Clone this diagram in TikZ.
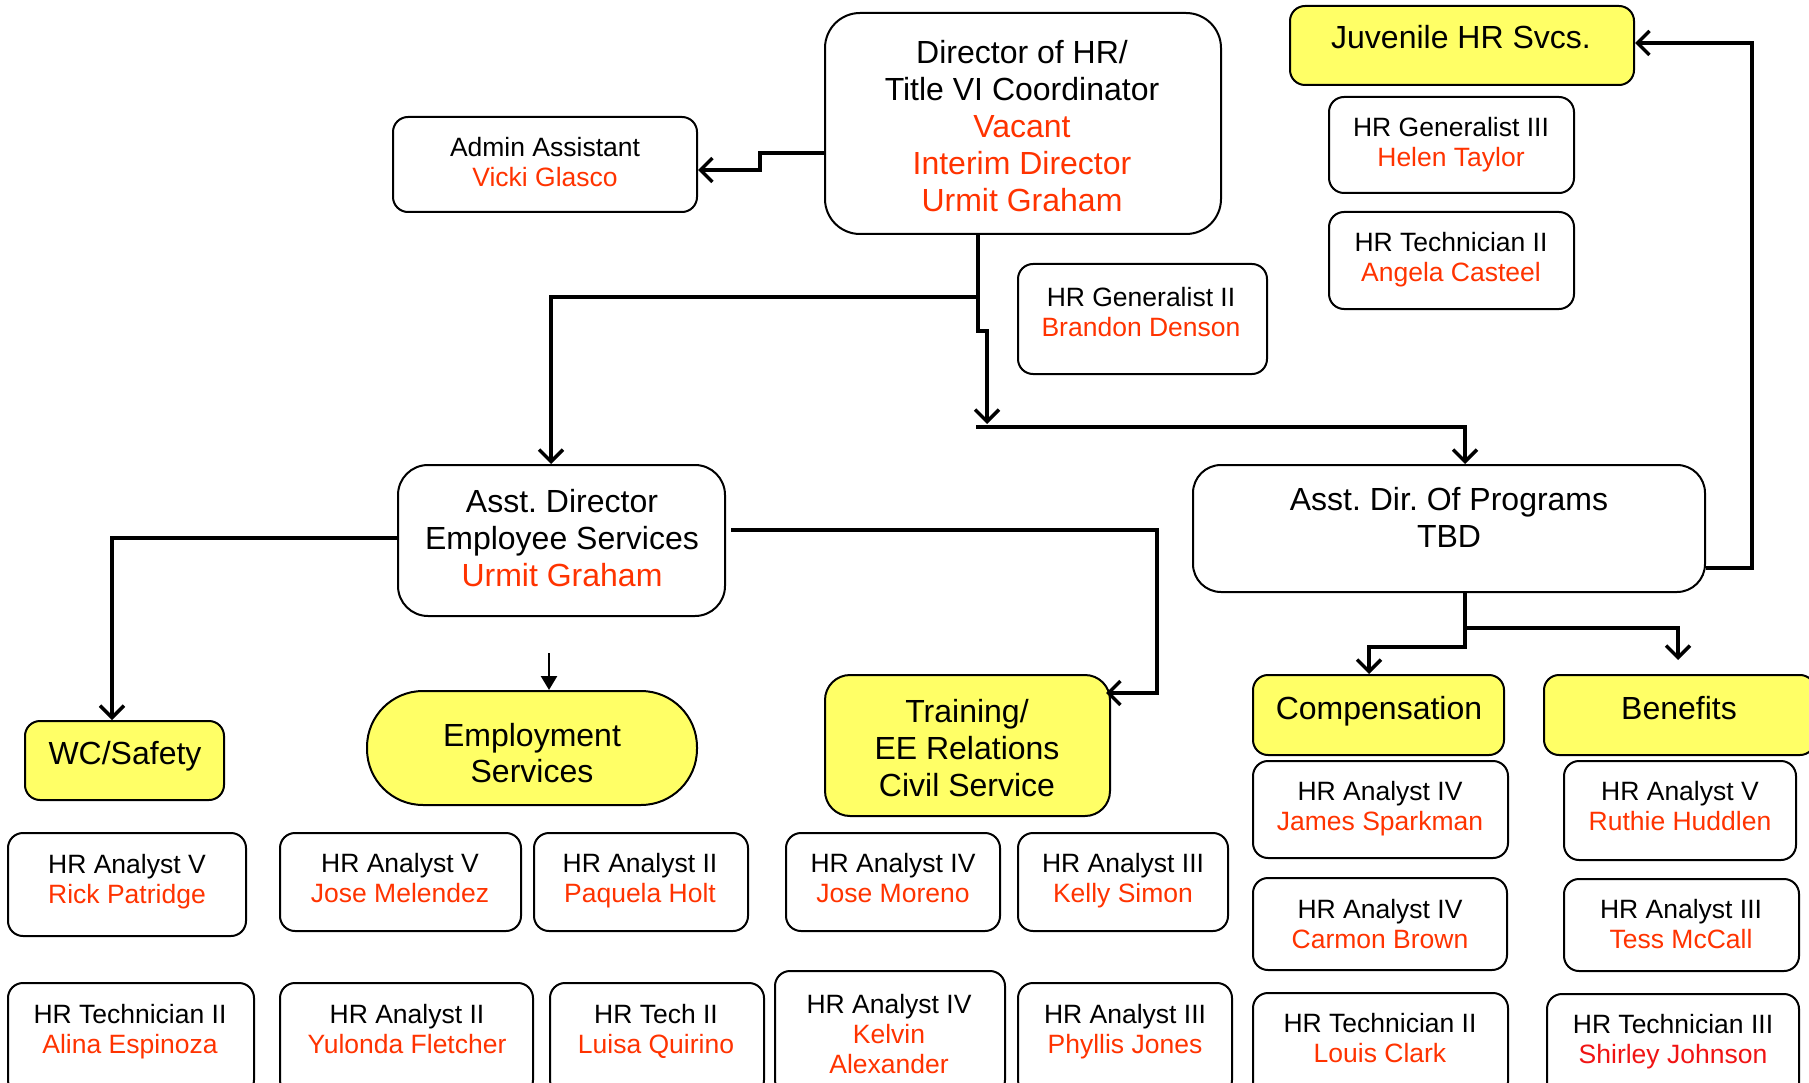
\documentclass[tikz,border=0pt]{standalone}
\usepackage{fontspec}
\setmainfont{Liberation Sans}
\usetikzlibrary{arrows.meta}
\definecolor{hrred}{RGB}{255,51,0}
\definecolor{hrred2}{RGB}{240,20,20}
\definecolor{hryellow}{RGB}{255,255,102}
\newcommand\rn[1]{\textcolor{hrred}{#1}}
\frenchspacing
\begin{document}
\begin{tikzpicture}[x=1pt,y=-1pt,
  box/.style={draw=black, line width=2pt, fill=white, rounded corners=15pt, inner sep=0pt},
  ybox/.style={box, fill=hryellow},
  big/.style={font=\fontsize{32}{37}\selectfont\frenchspacing, align=center, inner sep=0pt, text depth=0pt},
  small/.style={font=\fontsize{26.5}{30}\selectfont\frenchspacing, align=center, inner sep=0pt, text depth=0pt},
  conn/.style={line width=3.5pt, -{Straight Barb[length=12pt,width=24pt]}},
  thinarrow/.style={line width=2.5pt, -{Triangle[length=14pt,width=16pt]}}]
\useasboundingbox (0,0) rectangle (1809,1083);
\fill[white] (0,0) rectangle (1809,1083);

% top level
\node[box, rounded corners=35pt, minimum width=396pt, minimum height=221pt] (dir) at (1023,123.5) {};
\node[big] (dir-t) at (1022,126) {Director of HR/\\Title VI Coordinator\\\rn{Vacant}\\\rn{Interim Director}\\\rn{Urmit Graham}};
\node[box, minimum width=304pt, minimum height=95pt] (adm) at (545,164.5) {};
\node[small] (adm-t) at (545,162) {Admin Assistant\\\rn{Vicki Glasco}};
\node[box, minimum width=249pt, minimum height=110pt] (gen2) at (1142.5,319) {};
\node[small] (gen2-t) at (1141,312) {HR Generalist II\\\rn{Brandon Denson}};

% juvenile
\node[ybox, minimum width=344pt, minimum height=79pt] (juv) at (1462,45.5) {};
\node[big] (juv-t) at (1461,37) {Juvenile HR Svcs.};
\node[box, minimum width=245pt, minimum height=96pt] (gen3) at (1451.5,145) {};
\node[small] (gen3-t) at (1451,142) {HR Generalist III\\\rn{Helen Taylor}};
\node[box, minimum width=245pt, minimum height=97pt] (tj) at (1451.5,260.5) {};
\node[small] (tj-t) at (1451,257) {HR Technician II\\\rn{Angela Casteel}};

% assistant directors
\node[box, rounded corners=30pt, minimum width=327pt, minimum height=151pt] (asd) at (561.5,540.5) {};
\node[big] (asd-t) at (562,538) {Asst. Director\\Employee Services\\\rn{Urmit Graham}};
\node[box, rounded corners=28pt, minimum width=512pt, minimum height=127pt] (adp) at (1449,528.5) {};
\node[big] (adp-t) at (1449,517.5) {Asst. Dir. Of Programs\\TBD};

% section heads
\node[ybox, minimum width=199pt, minimum height=79pt] (wc) at (124.5,760.5) {};
\node[big] (wc-t) at (125,753) {WC/Safety};
\node[ybox, rounded corners=56pt, minimum width=330pt, minimum height=114pt] (emp) at (532,748) {};
\node[big, font=\fontsize{32}{36}\selectfont] (emp-t) at (532,753) {Employment\\Services};
\node[ybox, rounded corners=25pt, minimum width=285pt, minimum height=141pt] (tr) at (967.5,745.5) {};
\node[big] (tr-t) at (967,748) {Training/\\EE Relations\\Civil Service};
\node[ybox, minimum width=251pt, minimum height=80pt] (comp) at (1378.5,715) {};
\node[big] (comp-t) at (1379,708) {Compensation};
\node[ybox, minimum width=271pt, minimum height=80pt] (ben) at (1679.5,715) {};
\node[big] (ben-t) at (1679,708) {Benefits};

% compensation staff
\node[box, minimum width=255pt, minimum height=97pt] (ja) at (1380.5,809.5) {};
\node[small] (ja-t) at (1380,806) {HR Analyst IV\\\rn{James Sparkman}};
\node[box, minimum width=254pt, minimum height=92pt] (cb) at (1380,924) {};
\node[small] (cb-t) at (1380,924) {HR Analyst IV\\\rn{Carmon Brown}};
\node[box, minimum width=255pt, minimum height=104pt] (lc) at (1380.5,1045) {};
\node[small] (lc-t) at (1380,1038) {HR Technician II\\\rn{Louis Clark}};

% benefits staff
\node[box, minimum width=232pt, minimum height=99pt] (rh) at (1680,810.5) {};
\node[small] (rh-t) at (1680,806) {HR Analyst V\\\rn{Ruthie Huddlen}};
\node[box, minimum width=235pt, minimum height=92pt] (tm) at (1681.5,925) {};
\node[small] (tm-t) at (1681,924) {HR Analyst III\\\rn{Tess McCall}};
\node[box, minimum width=252pt, minimum height=104pt] (sj) at (1673,1046) {};
\node[small] (sj-t) at (1673,1039) {HR Technician III\\\textcolor{hrred2}{Shirley Johnson}};

% row 1
\node[box, minimum width=238pt, minimum height=103pt] (rp) at (127,884.5) {};
\node[small] (rp-t) at (127,878.5) {HR Analyst V\\\rn{Rick Patridge}};
\node[box, minimum width=241pt, minimum height=98pt] (jm) at (400.5,882) {};
\node[small] (jm-t) at (400,878) {HR Analyst V\\\rn{Jose Melendez}};
\node[box, minimum width=214pt, minimum height=98pt] (ph) at (641,882) {};
\node[small] (ph-t) at (640,878) {HR Analyst II\\\rn{Paquela Holt}};
\node[box, minimum width=214pt, minimum height=98pt] (jmo) at (893,882) {};
\node[small] (jmo-t) at (893,878) {HR Analyst IV\\\rn{Jose Moreno}};
\node[box, minimum width=210pt, minimum height=98pt] (ks) at (1123,882) {};
\node[small] (ks-t) at (1123,878) {HR Analyst III\\\rn{Kelly Simon}};

% row 2
\node[box, minimum width=246pt, minimum height=112pt] (ae) at (131,1039) {};
\node[small] (ae-t) at (130,1028.5) {HR Technician II\\\rn{Alina Espinoza}};
\node[box, minimum width=253pt, minimum height=112pt] (yf) at (406.5,1039) {};
\node[small] (yf-t) at (407,1028.5) {HR Analyst II\\\rn{Yulonda Fletcher}};
\node[box, minimum width=214pt, minimum height=112pt] (lq) at (657,1039) {};
\node[small] (lq-t) at (656,1028.5) {HR Tech II\\\rn{Luisa Quirino}};
\node[box, minimum width=230pt, minimum height=124pt] (ka) at (890,1033) {};
\node[small] (ka-t) at (889,1033.5) {HR Analyst IV\\\rn{Kelvin}\\\rn{Alexander}};
\node[box, minimum width=214pt, minimum height=112pt] (pj) at (1125,1039) {};
\node[small] (pj-t) at (1125,1028.5) {HR Analyst III\\\rn{Phyllis Jones}};

% connectors
\draw[conn] (dir.west |- 0,153) -- (760,153) -- (760,170) -- (adm.east |- 0,170);
\draw[conn] (dir.south -| 978,0) -- (978,297) -- (551,297) -- (asd.north -| 551,0);
\coordinate (jn) at (987,424);
\draw[conn] (dir.south -| 978,0) -- (978,331) -- (987,331) -- (jn);
\coordinate (hs) at (976,427);
\draw[conn] (hs) -- (1465,427) -- (adp.north -| 1465,0);
\draw[conn] (asd.west |- 0,538) -- (112,538) -- (wc.north -| 112,0);
\draw[conn, shorten <=5pt, shorten >=-5pt] (asd.east |- 0,530) -- (1157,530) -- (1157,693) -- (tr.east |- 0,693);
\coordinate (ea) at (549,653);
\draw[thinarrow] (ea) -- (emp.north -| 549,0);
\draw[conn] (adp.south -| 1465,0) -- (1465,647) -- (1369,647) -- (comp.north -| 1369,0);
\draw[conn, shorten >=14pt] (adp.south -| 1465,0) -- (1465,628) -- (1678,628) -- (ben.north -| 1678,0);
\draw[conn] (adp.east |- 0,568) -- (1752,568) -- (1752,43) -- (juv.east |- 0,43);
\end{tikzpicture}
\end{document}
